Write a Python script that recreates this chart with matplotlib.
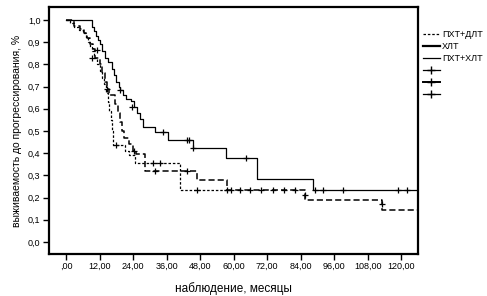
import matplotlib
matplotlib.use("Agg")
import matplotlib.pyplot as plt
from matplotlib.lines import Line2D

plt.rcParams["font.family"] = ["Liberation Sans", "DejaVu Sans"]

# Kaplan-Meier step data (time of step, survival after step)
dlt_t = [0, 1.4, 3, 4.5, 6, 7, 8, 8.7, 9.3, 10, 11, 12, 12.8, 13.5, 14.2, 15,
         15.5, 16, 16.4, 16.8, 21, 22.5, 24.7, 40.8]
dlt_s = [1.0, 0.985, 0.97, 0.955, 0.94, 0.92, 0.90, 0.88, 0.86, 0.83, 0.80, 0.77,
         0.74, 0.71, 0.67, 0.63, 0.59, 0.55, 0.50, 0.437, 0.41, 0.393, 0.356, 0.234]
dlt_end = 57.6
dlt_cens_t = [9.2, 11, 17.9, 31.1, 33.7, 47.0, 57.6]
dlt_cens_s = [0.83, 0.865, 0.437, 0.356, 0.356, 0.234, 0.234]

xlt_t = [0, 3, 5, 6.5, 7.5, 8.5, 9.5, 10.5, 12, 13, 13.8, 14.5, 15.5, 17.5, 18.5,
         19.5, 20, 20.8, 22.5, 24, 25, 28.3, 47, 57.6, 85.6, 113]
xlt_s = [1.0, 0.975, 0.96, 0.94, 0.92, 0.89, 0.87, 0.83, 0.80, 0.76, 0.72, 0.69,
         0.66, 0.62, 0.58, 0.54, 0.50, 0.47, 0.44, 0.41, 0.397, 0.32, 0.28, 0.234,
         0.19, 0.145]
xlt_end = 126
xlt_cens_t = [14.5, 24.5, 31.9, 43.4, 59, 62.3, 66, 70, 74, 78, 82, 85.6, 113]
xlt_cens_s = [0.69, 0.41, 0.32, 0.32, 0.234, 0.234, 0.234, 0.234, 0.234, 0.234,
              0.234, 0.21, 0.17]

pxlt_t = [0, 9.2, 10, 10.8, 11.5, 12.3, 13, 14, 15, 16.5, 17.3, 18, 18.8, 19.5,
          20.3, 21.5, 23.2, 24.5, 25.3, 26.5, 27.7, 31.9, 36.6, 45.3, 57.3, 68.3,
          88.3]
pxlt_s = [1.0, 0.97, 0.95, 0.93, 0.91, 0.89, 0.86, 0.83, 0.81, 0.78, 0.75, 0.72,
          0.70, 0.685, 0.66, 0.645, 0.635, 0.61, 0.58, 0.555, 0.52, 0.497, 0.458,
          0.422, 0.378, 0.282, 0.233]
pxlt_end = 126
pxlt_cens_t = [19.5, 23.5, 34.9, 43.2, 44.1, 45.5, 64.4, 89.1, 92.1, 99.3, 119, 122.2]
pxlt_cens_s = [0.685, 0.61, 0.497, 0.458, 0.458, 0.422, 0.378, 0.233, 0.233,
               0.233, 0.233, 0.233]

groups = ["ПХТ+ДЛТ", "ХЛТ", "ПХТ+ХЛТ"]
y_ticks = [0.0, 0.1, 0.2, 0.3, 0.4, 0.5, 0.6, 0.7, 0.8, 0.9, 1.0]
y_labels = ["0,0", "0,1", "0,2", "0,3", "0,4", "0,5", "0,6", "0,7", "0,8", "0,9", "1,0"]
x_ticks = [0, 12, 24, 36, 48, 60, 72, 84, 96, 108, 120]
x_labels = [",00", "12,00", "24,00", "36,00", "48,00", "60,00", "72,00", "84,00",
            "96,00", "108,00", "120,00"]


def km(ax, t, s, end, **kw):
    ax.step(list(t) + [end], list(s) + [s[-1]], where="post", color="black", **kw)


fig = plt.figure(figsize=(4.87, 2.96), dpi=100)
ax = fig.add_axes([0.1, 0.142, 0.758, 0.834])

km(ax, dlt_t, dlt_s, dlt_end, lw=0.9, ls=(0, (2, 1.5)))
km(ax, xlt_t, xlt_s, xlt_end, lw=1.1, ls=(0, (4, 2)))
km(ax, pxlt_t, pxlt_s, pxlt_end, lw=0.9, ls="-")

mk = dict(marker="+", ls="none", color="black", ms=4, mew=0.9)
ax.plot(dlt_cens_t, dlt_cens_s, **mk)
ax.plot(xlt_cens_t, xlt_cens_s, **mk)
ax.plot(pxlt_cens_t, pxlt_cens_s, **mk)

ax.set_xlim(-6.2, 126)
ax.set_ylim(-0.054, 1.058)
ax.set_xticks(x_ticks)
ax.set_xticklabels(x_labels)
ax.set_yticks(y_ticks)
ax.set_yticklabels(y_labels)
ax.tick_params(axis="both", labelsize=6.5, length=4, width=1, direction="out",
               pad=2)
for sp in ax.spines.values():
    sp.set_linewidth(1.6)

ax.set_xlabel("наблюдение, месяцы", fontsize=8.5, labelpad=8)
ax.set_ylabel("выживаемость до прогрессирования, %", fontsize=7.5, labelpad=4)

handles = [
    Line2D([], [], color="black", lw=0.9, ls=(0, (2, 1.5))),
    Line2D([], [], color="black", lw=1.6, ls="-"),
    Line2D([], [], color="black", lw=0.9, ls="-"),
    Line2D([], [], color="black", lw=0.9, marker="+", ms=6),
    Line2D([], [], color="black", lw=1.4, marker="+", ms=6),
    Line2D([], [], color="black", lw=0.9, marker="+", ms=6),
]
labels = groups + ["", "", ""]
ax.legend(handles, labels, loc="upper left", bbox_to_anchor=(1.0, 0.93),
          frameon=False, fontsize=6.5, handlelength=1.8, handletextpad=0.3,
          labelspacing=0.35, borderaxespad=0.2)

fig.savefig("out.png", dpi=100)
